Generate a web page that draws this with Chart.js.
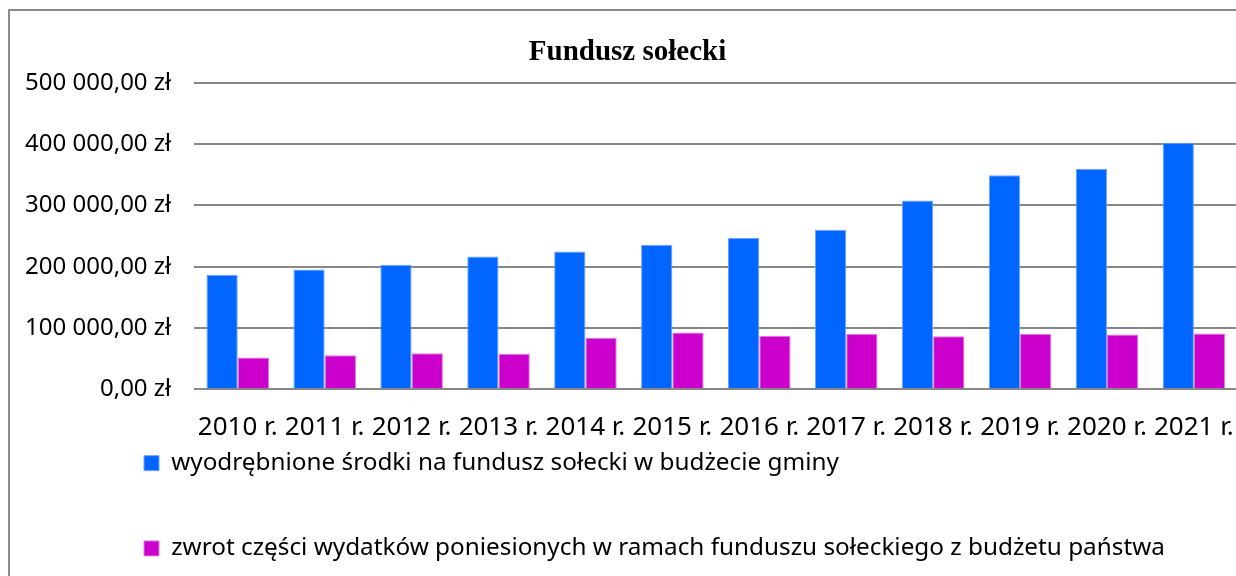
<!DOCTYPE html>
<html>
<head>
<meta charset="utf-8">
<script src="https://cdn.jsdelivr.net/npm/chart.js@4/dist/chart.umd.min.js"></script>
<style>
    html, body {
        margin: 0;
        padding: 0;
        background: #fff;
        overflow: hidden;
        width: 1236px;
        height: 576px;
    }
    #frame {
        position: absolute;
        left: 8px;
        top: 9px;
        border-left: 2px solid #8c8c8c;
        border-top: 2px solid #8c8c8c;
    }
    canvas {
        display: block;
    }
</style>
</head>
<body>
<div id="frame">
    <canvas id="chart" width="1239" height="637"></canvas>
</div>
<script>
const years = ['2010 r.', '2011 r.', '2012 r.', '2013 r.', '2014 r.', '2015 r.',
    '2016 r.', '2017 r.', '2018 r.', '2019 r.', '2020 r.', '2021 r.'];

// wyodrębnione środki na fundusz sołecki
const funds = [187000, 195600, 203200, 216800, 225000, 236000,
    246700, 260400, 308300, 349200, 360000, 402600];

// zwrot części wydatków z budżetu państwa
const refunds = [51800, 55600, 58800, 57800, 84000, 92600,
    87200, 90500, 86600, 90500, 89400, 91000];

const seriesNames = [
    'wyodrębnione środki na fundusz sołecki w budżecie gminy',
    'zwrot części wydatków poniesionych w ramach funduszu sołeckiego z budżetu państwa'
];

const chartTitle = 'Fundusz sołecki';

const formatZl = (value) => {
    let whole = Math.round(value).toString().replace(/\B(?=(\d{3})+(?!\d))/g, ' ');
    return whole + ',00 zł';
};

// legend sits indented under the axis, not centred
const legendPlacer = {
    id: 'legendPlacer',
    afterLayout(chart) {
        chart.legend.left = 73;
        chart.legend.top = 379;
    }
};

new Chart(document.getElementById('chart'), {
    type: 'bar',
    data: {
        labels: years,
        datasets: [
            {
                label: seriesNames[0],
                data: funds,
                backgroundColor: '#0066ff',
                borderColor: '#6ea4ff',
                borderWidth: 1,
            },
            {
                label: seriesNames[1],
                data: refunds,
                backgroundColor: '#cc00cc',
                borderColor: '#e27ae2',
                borderWidth: 1,
            }
        ]
    },
    options: {
        responsive: false,
        animation: false,
        devicePixelRatio: 1,
        layout: {
            padding: {left: 1, right: 5, top: 0, bottom: 9}
        },
        datasets: {
            bar: {
                categoryPercentage: 0.72,
                barPercentage: 1.0,
            }
        },
        scales: {
            x: {
                grid: {display: false},
                border: {display: false},
                ticks: {
                    color: '#000',
                    font: {family: 'Noto Sans', size: 26},
                    padding: 15,
                    maxRotation: 0,
                    autoSkip: false,
                }
            },
            y: {
                min: 0,
                max: 500000,
                border: {display: false},
                grid: {
                    color: '#888',
                    lineWidth: 2,
                    drawTicks: false,
                },
                ticks: {
                    stepSize: 100000,
                    color: '#000',
                    font: {family: 'Noto Sans', size: 24},
                    padding: 23,
                    callback: (value) => formatZl(value),
                },
                afterFit(scale) {
                    scale.width = 183.3;
                }
            }
        },
        plugins: {
            title: {
                display: true,
                text: chartTitle,
                color: '#000',
                font: {family: 'Liberation Serif', size: 29, weight: 'bold'},
                padding: {top: 24, bottom: 13.2},
            },
            legend: {
                position: 'bottom',
                align: 'start',
                labels: {
                    color: '#000',
                    font: {family: 'Noto Sans', size: 24.3},
                    boxWidth: 15,
                    boxHeight: 15,
                    padding: 61,
                }
            },
            tooltip: {enabled: false}
        }
    },
    plugins: [legendPlacer]
});
</script>
</body>
</html>
